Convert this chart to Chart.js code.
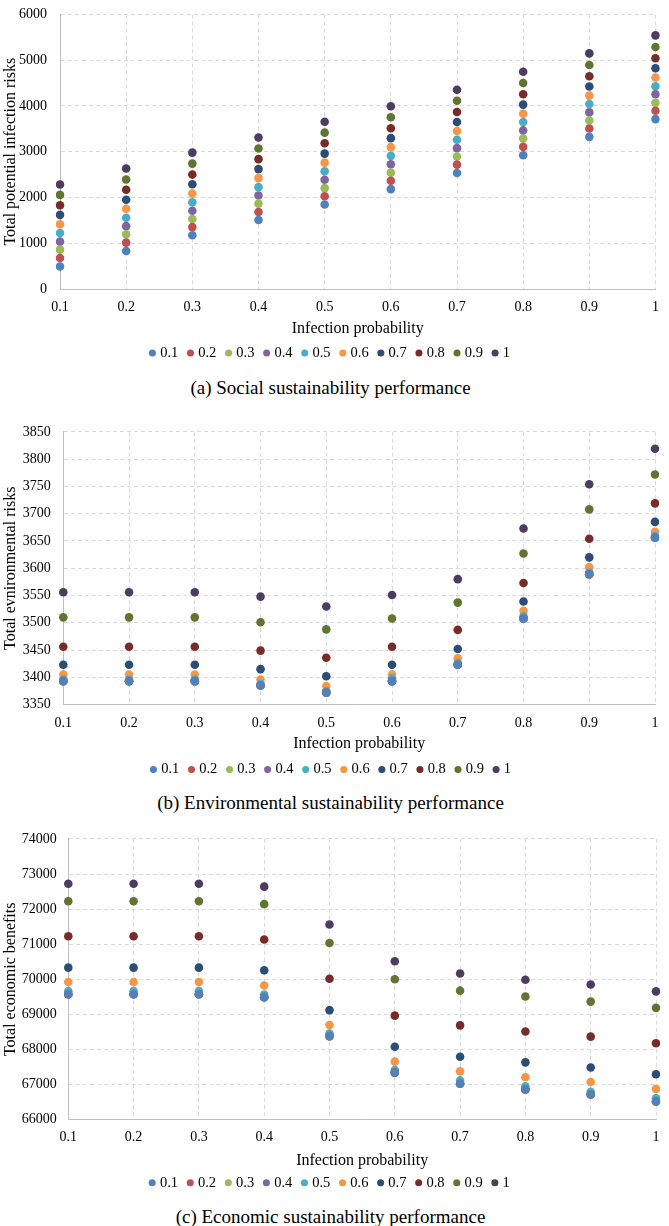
<!DOCTYPE html>
<html>
<head>
<meta charset="utf-8">
<title>Sustainability performance vs infection probability</title>
<script src="https://cdn.jsdelivr.net/npm/chart.js@4.4.0/dist/chart.umd.min.js"></script>
<style>
  html, body { margin: 0; padding: 0; background: #fff; }
  body { position: relative; width: 669px; height: 1226px; overflow: hidden;
         font-family: "Liberation Serif", "Times New Roman", serif; }
  .panel { position: absolute; left: 0; }
  .caption { position: absolute; left: -4px; width: 669px; text-align: center;
             font-size: 19px; line-height: 22px; color: #000; }
</style>
</head>
<body>
<div class="panel"><canvas id="socialChart"></canvas></div>
<div class="caption" id="capA">(a) Social sustainability performance</div>
<div class="panel"><canvas id="envChart"></canvas></div>
<div class="caption" id="capB">(b) Environmental sustainability performance</div>
<div class="panel"><canvas id="econChart"></canvas></div>
<div class="caption" id="capC">(c) Economic sustainability performance</div>

<script>
// Infection probability on the x axis
const probLabels = ['0.1', '0.2', '0.3', '0.4', '0.5', '0.6', '0.7', '0.8', '0.9', '1'];
// Legend series (second probability parameter)
const seriesLabels = ['0.1', '0.2', '0.3', '0.4', '0.5', '0.6', '0.7', '0.8', '0.9', '1'];
const seriesColors = ['#4F81BD', '#C0504D', '#9BBB59', '#8064A2', '#4BACC6',
                      '#F79646', '#2C4D75', '#772C2A', '#5F7530', '#4D3B62'];

// (a) Total potential infection risks, one row per series 0.1 ... 1
const socialRisks = [
    [493, 831, 1176, 1507, 1845, 2183, 2535, 2923, 3324, 3712],
    [676, 1014, 1352, 1684, 2028, 2366, 2718, 3106, 3507, 3894],
    [860, 1197, 1528, 1866, 2204, 2542, 2895, 3289, 3683, 4071],
    [1035, 1373, 1711, 2043, 2388, 2725, 3078, 3465, 3859, 4254],
    [1225, 1557, 1895, 2225, 2571, 2909, 3261, 3648, 4042, 4430],
    [1416, 1754, 2085, 2423, 2761, 3099, 3451, 3831, 4226, 4620],
    [1620, 1951, 2289, 2620, 2958, 3296, 3648, 4029, 4423, 4824],
    [1831, 2169, 2500, 2838, 3184, 3514, 3866, 4254, 4648, 5042],
    [2056, 2394, 2740, 3070, 3416, 3754, 4113, 4500, 4895, 5289],
    [2282, 2634, 2979, 3310, 3655, 3993, 4352, 4747, 5148, 5542]
];
const socialTicks = [0, 1000, 2000, 3000, 4000, 5000, 6000];

// (b) Total environmental risks
const envRisks = [
    [3393, 3393, 3393, 3385, 3372, 3393, 3423, 3508, 3589, 3656],
    [3393, 3393, 3393, 3385, 3372, 3393, 3423, 3508, 3589, 3656],
    [3393, 3393, 3393, 3385, 3372, 3393, 3423, 3508, 3589, 3656],
    [3393, 3393, 3393, 3385, 3372, 3393, 3423, 3508, 3589, 3656],
    [3396, 3396, 3396, 3388, 3375, 3398, 3426, 3512, 3592, 3659],
    [3405, 3405, 3405, 3396, 3384, 3405, 3435, 3522, 3602, 3667],
    [3423, 3423, 3423, 3415, 3402, 3423, 3452, 3539, 3620, 3685],
    [3456, 3456, 3456, 3449, 3436, 3456, 3487, 3573, 3654, 3719],
    [3510, 3510, 3510, 3501, 3488, 3508, 3537, 3627, 3708, 3772],
    [3556, 3556, 3556, 3548, 3530, 3551, 3580, 3673, 3754, 3819]
];
const envTicks = [3350, 3400, 3450, 3500, 3550, 3600, 3650, 3700, 3750, 3800, 3850];

// (c) Total economic benefits
const econBenefits = [
    [69575, 69575, 69575, 69491, 68382, 67341, 67025, 66859, 66720, 66518],
    [69575, 69575, 69575, 69491, 68382, 67341, 67025, 66859, 66720, 66518],
    [69575, 69575, 69575, 69491, 68382, 67341, 67025, 66859, 66720, 66518],
    [69575, 69575, 69575, 69491, 68382, 67341, 67025, 66859, 66720, 66518],
    [69668, 69668, 69668, 69565, 68457, 67413, 67119, 66953, 66795, 66609],
    [69925, 69925, 69925, 69823, 68698, 67654, 67377, 67211, 67072, 66878],
    [70332, 70332, 70332, 70258, 69122, 68077, 67792, 67634, 67488, 67294],
    [71227, 71227, 71227, 71136, 70017, 68964, 68687, 68512, 68366, 68180],
    [72224, 72224, 72224, 72141, 71033, 70000, 69676, 69510, 69363, 69186],
    [72723, 72723, 72723, 72640, 71560, 70515, 70166, 69989, 69850, 69657]
];
const econTicks = [66000, 67000, 68000, 69000, 70000, 71000, 72000, 73000, 74000];

const FONT = "'Liberation Serif', 'Times New Roman', serif";
const GRID = '#d9d9d9';
const AXIS = '#bfbfbf';
Chart.defaults.font.family = FONT;
Chart.defaults.color = '#000';

// Build one panel; box = where the plot area sits on the page
function drawPanel(canvasId, captionId, box, yTitle, values, yTicks) {
    const padTop = 12;
    const legendFont = 14.5;
    const legendPad = 11.7;
    const legendH = legendFont + legendPad + 10;
    const xAxisH = box.legendOff - legendPad - legendFont / 2;
    const titleLH = Math.max(2, 2 * (xAxisH - box.titleOff));
    const rawH = padTop + (box.bottom - box.top) + xAxisH + legendH;
    const height = Math.ceil(rawH);

    const canvas = document.getElementById(canvasId);
    canvas.width = 669;
    canvas.height = height;
    canvas.parentNode.style.top = (box.top - padTop) + 'px';

    const cap = document.getElementById(captionId);
    cap.style.top = (box.bottom + box.captionOff - 11) + 'px';

    new Chart(canvas.getContext('2d'), {
        type: 'line',
        data: {
            labels: probLabels,
            datasets: seriesLabels.map((label, i) => ({
                label: label,
                data: values[i],
                showLine: false,
                backgroundColor: seriesColors[i],
                borderColor: seriesColors[i],
                pointRadius: 4.3,
                pointHoverRadius: 4.3,
                pointBorderWidth: 0
            }))
        },
        options: {
            responsive: false,
            animation: false,
            layout: {
                autoPadding: false,
                padding: { top: padTop, right: 669 - box.right, bottom: height - rawH, left: 0 }
            },
            plugins: {
                legend: {
                    position: 'bottom',
                    labels: {
                        usePointStyle: true,
                        boxWidth: 1,
                        boxHeight: 5,
                        padding: legendPad,
                        color: '#000',
                        font: { family: FONT, size: legendFont }
                    }
                },
                tooltip: { enabled: false }
            },
            scales: {
                x: {
                    type: 'category',
                    offset: false,
                    grid: { color: GRID, drawTicks: false },
                    border: { color: AXIS, dash: [4, 3] },
                    ticks: { padding: box.xTickPad, maxRotation: 0, autoSkip: false,
                             font: { family: FONT, size: 14 } },
                    title: {
                        display: true,
                        text: 'Infection probability',
                        padding: 0,
                        font: { family: FONT, size: 16, lineHeight: titleLH + 'px' }
                    },
                    afterFit: s => { s.height = xAxisH; }
                },
                y: {
                    min: yTicks[0],
                    max: yTicks[yTicks.length - 1],
                    grid: { color: GRID, drawTicks: false },
                    border: { color: AXIS, dash: [4, 3] },
                    ticks: {
                        stepSize: yTicks[1] - yTicks[0],
                        padding: box.yTickPad,
                        font: { family: FONT, size: 14 },
                        callback: v => String(v)
                    },
                    title: {
                        display: true,
                        text: yTitle,
                        padding: { top: 1, bottom: 0 },
                        font: { family: FONT, size: 16 }
                    },
                    afterFit: s => { s.width = box.left; }
                }
            }
        }
    });
}

document.addEventListener('DOMContentLoaded', function() {
    drawPanel('socialChart', 'capA',
        { top: 5, bottom: 289, left: 60, right: 662, legendOff: 64, titleOff: 40,
          captionOff: 99, xTickPad: 10, yTickPad: 13 },
        'Total potential infection risks', socialRisks, socialTicks);
    drawPanel('envChart', 'capB',
        { top: 422.7, bottom: 704.3, left: 63.3, right: 664, legendOff: 65, titleOff: 39,
          captionOff: 99, xTickPad: 10.5, yTickPad: 12.5 },
        'Total evnironmental risks', envRisks, envTicks);
    drawPanel('econChart', 'capC',
        { top: 830.7, bottom: 1119.4, left: 68.3, right: 661.5, legendOff: 63, titleOff: 41,
          captionOff: 98, xTickPad: 9.5, yTickPad: 11.5 },
        'Total economic benefits', econBenefits, econTicks);
});
</script>
</body>
</html>
